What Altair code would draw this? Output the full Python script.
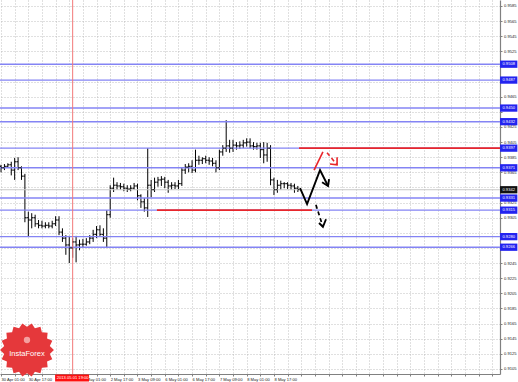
import json
import math
import altair as alt
import pandas as pd

# ---------------- data ----------------
bar_hours = 2
first_open = 0.9373
high = [0.9375, 0.9376, 0.9377, 0.9379, 0.9384, 0.9385, 0.9373, 0.9363, 0.9313, 0.9311,
        0.9309, 0.9302, 0.9301, 0.9299, 0.9299, 0.9301, 0.9307, 0.9307, 0.9291, 0.9282,
        0.9281, 0.9278, 0.9281, 0.9276, 0.9277, 0.9278, 0.9282, 0.9289, 0.9294, 0.9295,
        0.9291, 0.9315, 0.9348, 0.9358, 0.9352, 0.9351, 0.9350, 0.9348, 0.9348, 0.9351,
        0.9350, 0.9336, 0.9331, 0.9397, 0.9355, 0.9358, 0.9359, 0.9360, 0.9359, 0.9355,
        0.9352, 0.9352, 0.9355, 0.9371, 0.9376, 0.9377, 0.9381, 0.9395, 0.9387, 0.9385,
        0.9387, 0.9385, 0.9384, 0.9381, 0.9395, 0.9401, 0.9434, 0.9408, 0.9408, 0.9405,
        0.9406, 0.9408, 0.9410, 0.9410, 0.9405, 0.9404, 0.9404, 0.9405, 0.9404, 0.9401,
        0.9358, 0.9355, 0.9354, 0.9352, 0.9352, 0.9351, 0.9350, 0.9347]
low = [0.9365, 0.9368, 0.9371, 0.9361, 0.9355, 0.9368, 0.9355, 0.9299, 0.9280, 0.9291,
       0.9293, 0.9291, 0.9291, 0.9291, 0.9291, 0.9291, 0.9294, 0.9282, 0.9273, 0.9256,
       0.9245, 0.9252, 0.9246, 0.9262, 0.9266, 0.9268, 0.9270, 0.9273, 0.9278, 0.9281,
       0.9273, 0.9266, 0.9305, 0.9339, 0.9342, 0.9342, 0.9340, 0.9339, 0.9340, 0.9342,
       0.9328, 0.9318, 0.9313, 0.9306, 0.9332, 0.9339, 0.9346, 0.9347, 0.9344, 0.9338,
       0.9342, 0.9343, 0.9343, 0.9347, 0.9363, 0.9365, 0.9364, 0.9365, 0.9375, 0.9376,
       0.9377, 0.9375, 0.9373, 0.9365, 0.9368, 0.9387, 0.9392, 0.9391, 0.9392, 0.9395,
       0.9396, 0.9397, 0.9399, 0.9397, 0.9395, 0.9395, 0.9384, 0.9377, 0.9379, 0.9348,
       0.9335, 0.9338, 0.9342, 0.9344, 0.9343, 0.9342, 0.9338, 0.9339]
close = [0.9371, 0.9373, 0.9375, 0.9368, 0.9379, 0.9371, 0.9360, 0.9305, 0.9302, 0.9305,
         0.9297, 0.9295, 0.9294, 0.9295, 0.9294, 0.9297, 0.9302, 0.9286, 0.9278, 0.9269,
         0.9265, 0.9273, 0.9269, 0.9270, 0.9270, 0.9273, 0.9278, 0.9283, 0.9289, 0.9283,
         0.9278, 0.9309, 0.9344, 0.9348, 0.9347, 0.9346, 0.9344, 0.9343, 0.9344, 0.9347,
         0.9334, 0.9326, 0.9318, 0.9348, 0.9342, 0.9352, 0.9355, 0.9356, 0.9352, 0.9347,
         0.9348, 0.9347, 0.9350, 0.9368, 0.9372, 0.9373, 0.9368, 0.9381, 0.9381, 0.9383,
         0.9381, 0.9380, 0.9377, 0.9371, 0.9392, 0.9397, 0.9400, 0.9397, 0.9401, 0.9400,
         0.9401, 0.9404, 0.9405, 0.9400, 0.9399, 0.9400, 0.9395, 0.9388, 0.9397, 0.9355,
         0.9342, 0.9348, 0.9350, 0.9350, 0.9348, 0.9347, 0.9344, 0.9342]

x_labels = ["30 Apr 01:00", "30 Apr 17:00", "1 May 09:00", "2 May 01:00", "2 May 17:00",
            "3 May 09:00", "6 May 01:00", "6 May 17:00", "7 May 09:00", "8 May 01:00",
            "8 May 17:00"]
label_step = 16
grid_values = [0, 8, 16, 24, 32, 40, 48, 56, 64, 72, 80, 88, 96, 104, 112, 120, 128, 136,
               144, 152, 160, 168, 176, 184, 192, 200, 208, 216, 224, 232, 240, 248, 256,
               264, 272, 280, 288]
y_ticks = [0.9585, 0.9565, 0.9545, 0.9525, 0.9505, 0.9485, 0.9465, 0.9445, 0.9425,
           0.9405, 0.9385, 0.9365, 0.9345, 0.9325, 0.9305, 0.9285, 0.9265, 0.9245,
           0.9225, 0.9205, 0.9185, 0.9165, 0.9145, 0.9125, 0.9105]

blue_levels = [0.9508, 0.9487, 0.9450, 0.9432, 0.9397, 0.9371, 0.9331, 0.9315, 0.9280, 0.9266]
current_price = 0.9342

red_start = [174.7, 91.4]
red_end = [292.5, 182.3]
red_price = [0.9397, 0.9315]

vline_idx = [42]
vline_label = ["2013.05.01 19:00"]
vbox_from = [31.7]
vbox_to = [51.6]

# arrows (bar index, price)
zig_x = [175.3, 179.4, 187.0, 191.7]
zig_y = [0.9344, 0.9323, 0.9368, 0.9347]
zig_head_x = [188.2, 191.7, 192.3]
zig_head_y = [0.9352, 0.9347, 0.9356]
bdash_x = [184.6, 188.7]
bdash_y = [0.9322, 0.9293]
bdash_head_x = [186.4, 188.7, 190.5]
bdash_head_y = [0.9298, 0.9293, 0.9303]
rsolid_x = [183.5, 188.7]
rsolid_y = [0.9368, 0.9392]
rdash_x = [191.1, 197.0]
rdash_y = [0.9391, 0.9375]
rdash_head_x = [192.8, 197.0, 197.0]
rdash_head_y = [0.9376, 0.9375, 0.9385]

# ---------------- build ----------------
FONT = "Liberation Sans"
idx = [bar_hours * k for k in range(len(close))]
opens = [first_open] + close[:-1]
bars = pd.DataFrame({"idx": idx, "open": opens, "high": high, "low": low, "close": close})

xscale = alt.Scale(domain=[-0.6, 292.5], nice=False, zero=False)
yscale = alt.Scale(domain=[0.909836, 0.95929], nice=False, zero=False)

# x labels every 16 bars; a label lying wholly under the red date box is not drawn
label_expr = (f"(datum.value % {label_step} != 0 || datum.value / {label_step} >= {len(x_labels)} "
              f"|| (datum.value >= {vbox_from[0]} && datum.value + 13 <= {vbox_to[0]})) "
              f"? '' : {json.dumps(x_labels)}[datum.value / {label_step}]")

# y labels hidden where a level box sits on top of them
covered = " || ".join(f"abs(datum.value - {v}) < 0.00055" for v in blue_levels + [current_price])
y_label_expr = f"({covered}) ? '' : format(datum.value, '.4f')"

xaxis = alt.Axis(values=grid_values, labelExpr=label_expr, title=None, grid=True,
                 gridDash=[1, 2], gridColor="#b0b0b0", gridWidth=0.8,
                 labelFontSize=4.1, labelFont=FONT, labelColor="#222222", labelAlign="left",
                 labelBaseline="top", labelPadding=1.5, labelOverlap=False, labelFlush=False,
                 tickSize=2, tickColor="#808080", domainColor="#808080", domainWidth=1.2)
yaxis = alt.Axis(orient="right", values=y_ticks, labelExpr=y_label_expr, title=None, grid=True,
                 gridDash=[1, 2], gridColor="#b0b0b0", gridWidth=0.8,
                 labelFontSize=4.1, labelFont=FONT, labelColor="#222222", labelPadding=1.5,
                 labelOverlap=False, labelFlush=False,
                 tickSize=2, tickColor="#808080", domainColor="#808080", domainWidth=1.2)


def X(field):
    return alt.X(field, scale=xscale, axis=xaxis)


def Y(field):
    return alt.Y(field, scale=yscale, axis=yaxis)


wick = alt.Chart(bars).mark_rule(color="black", strokeWidth=1).encode(
    x=X("idx:Q"), y=Y("low:Q"), y2="high:Q")
open_tick = alt.Chart(bars).transform_calculate(xl="datum.idx - 0.95").mark_rule(
    color="black", strokeWidth=1).encode(x=X("xl:Q"), x2="idx:Q", y=Y("open:Q"))
close_tick = alt.Chart(bars).transform_calculate(xr="datum.idx + 0.95").mark_rule(
    color="black", strokeWidth=1).encode(x=X("idx:Q"), x2="xr:Q", y=Y("close:Q"))

levels_df = pd.DataFrame({"price": blue_levels,
                          "label": [f"{v:.4f}" for v in blue_levels]})
blue_lines = alt.Chart(levels_df).mark_rule(color="#8484f4", strokeWidth=1.4).encode(
    y=Y("price:Q"))

bid_df = pd.DataFrame({"price": [current_price], "label": [f"{current_price:.4f}"]})
bid_line = alt.Chart(bid_df).mark_rule(color="#c8c8c8", strokeWidth=1).encode(
    y=Y("price:Q"))

red_df = pd.DataFrame({"x1": red_start, "x2": red_end, "price": red_price})
red_lines = alt.Chart(red_df).mark_rule(color="#e8262b", strokeWidth=1.6).encode(
    x=X("x1:Q"), x2="x2:Q", y=Y("price:Q"))

vdf = pd.DataFrame({"idx": vline_idx, "label": vline_label, "b1": vbox_from, "b2": vbox_to})
vline = alt.Chart(vdf).mark_rule(color="#f27878", strokeWidth=1).encode(x=X("idx:Q"))
vbox = alt.Chart(vdf).mark_rect(color="#ff1010").encode(
    x=X("b1:Q"), x2="b2:Q", y=alt.value(374.5), y2=alt.value(381.5))
vtext = alt.Chart(vdf).mark_text(color="white", fontSize=4.1, font=FONT, baseline="middle").encode(
    x=X("idx:Q"), y=alt.value(378.2), text="label:N")


def seg_df(xs, ys, name):
    return pd.DataFrame({"idx": xs, "price": ys, "ord": list(range(len(xs))), "grp": name})


def line_layer(df, color, width, dash=None):
    kw = dict(color=color, strokeWidth=width, strokeJoin="miter")
    if dash:
        kw["strokeDash"] = dash
    return alt.Chart(df).mark_line(**kw).encode(
        x=X("idx:Q"), y=Y("price:Q"), detail="grp:N", order="ord:Q")


black_solid = line_layer(pd.concat([seg_df(zig_x, zig_y, "zig"),
                                    seg_df(zig_head_x, zig_head_y, "h1"),
                                    seg_df(bdash_head_x, bdash_head_y, "h2")]), "black", 1.9)
black_dash = line_layer(seg_df(bdash_x, bdash_y, "bd"), "black", 1.7, [4, 3])
red_solid = line_layer(pd.concat([seg_df(rsolid_x, rsolid_y, "rs"),
                                  seg_df(rdash_head_x, rdash_head_y, "rh")]), "#e8262b", 1.6)
red_dash = line_layer(seg_df(rdash_x, rdash_y, "rd"), "#e8262b", 1.6, [4, 3])

box_shape = "M-1,-0.42L1,-0.42L1,0.42L-1,0.42Z"
blue_boxes = alt.Chart(levels_df).mark_point(shape=box_shape, filled=True, size=300,
                                             color="#2323f0", opacity=1).encode(
    x=alt.value(508.7), y=Y("price:Q"))
blue_text = alt.Chart(levels_df).mark_text(color="white", fontSize=4.1, font=FONT,
                                           baseline="middle").encode(
    x=alt.value(508.7), y=Y("price:Q"), text="label:N")
bid_box = alt.Chart(bid_df).mark_point(shape=box_shape, filled=True, size=300,
                                       color="#111111", opacity=1).encode(
    x=alt.value(508.7), y=Y("price:Q"))
bid_text = alt.Chart(bid_df).mark_text(color="white", fontSize=4.1, font=FONT,
                                       baseline="middle").encode(
    x=alt.value(508.7), y=Y("price:Q"), text="label:N")

# InstaForex badge (decoration)
n_spikes = 18
pts = []
for i in range(2 * n_spikes):
    a = math.pi * i / n_spikes
    r = 1.0 if i % 2 == 0 else 0.86
    pts.append(f"{r * math.cos(a):.3f},{r * math.sin(a):.3f}")
star_path = "M" + "L".join(pts) + "Z"
logo_df = pd.DataFrame({"name": ["InstaForex"]})
logo = alt.Chart(logo_df).mark_point(shape=star_path, filled=True, size=2900,
                                     color="#e5383b", opacity=1).encode(
    x=alt.value(27), y=alt.value(350))
logo_icon = alt.Chart(logo_df).mark_point(shape="circle", filled=True, size=40,
                                          color="#f4a0a0", opacity=1).encode(
    x=alt.value(27), y=alt.value(340))
logo_text = alt.Chart(logo_df).mark_text(color="white", fontSize=7.5, font=FONT,
                                         baseline="middle").encode(
    x=alt.value(27), y=alt.value(354), text="name:N")

chart = alt.layer(
    wick, blue_lines, bid_line, red_lines, vline, open_tick, close_tick,
    black_solid, black_dash, red_solid, red_dash,
    blue_boxes, blue_text, bid_box, bid_text, vbox, vtext,
    logo, logo_icon, logo_text,
).properties(
    width=500, height=374,
    autosize=alt.AutoSizeParams(type="none"),
    padding={"left": 0, "top": 0, "right": 18, "bottom": 8},
    background="white",
).configure_view(stroke=None)

chart.save("out.html", embed_options={"renderer": "svg", "actions": False})
